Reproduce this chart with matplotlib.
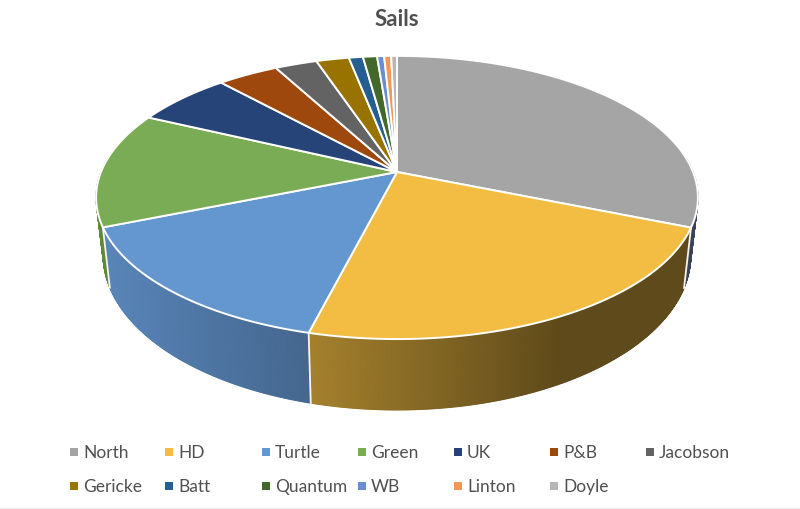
import numpy as np
import matplotlib
matplotlib.use('Agg')
import matplotlib.pyplot as plt

names = ['North', 'HD', 'Turtle', 'Green', 'UK', 'P&B', 'Jacobson',
         'Gericke', 'Batt', 'Quantum', 'WB', 'Linton', 'Doyle']
shares = [31.2, 22.8, 14.9, 13.2, 6.2, 3.9, 2.7, 2.1, 0.9, 0.9, 0.45, 0.45, 0.37]
colors = ['#a5a5a5', '#f2bd42', '#6496d0', '#7aab55', '#264478', '#9e480e', '#636363',
          '#997300', '#255e91', '#43682b', '#698ed0', '#f1975a', '#b7b7b7']

# the walls that do not follow the x shading
wall_colors = {'North': '#3b4356', 'Green': '#5f8a35'}

# perspective of the tilted disc, in pixels
TOP = dict(cx=397, cy=173, a=296, b=137)
BOTTOM = dict(cx=397, cy=228, a=289, b=150)
K = 0.18


def project(theta, p):
    u, v = np.sin(theta), np.cos(theta)
    return p['cx'] + p['a'] * u / (1 + K * v), p['cy'] - p['b'] * v / (1 + K * v)


def wall_shade(x):
    return np.interp(x, [100, 310, 560, 700], [0.89, 0.68, 0.39, 0.39])


plt.rcParams['font.family'] = ['Lato', 'DejaVu Sans']

fig = plt.figure(figsize=(8, 5.1), dpi=100)
ax = fig.add_axes([0, 0, 1, 1])
ax.set_xlim(0, 800)
ax.set_ylim(510, 0)
ax.axis('off')

fractions = np.array(shares) / sum(shares)
edges = np.concatenate([[0], np.cumsum(fractions)]) * 2 * np.pi

# side wall, thin strips from back to front
strips = []
for i, name in enumerate(names):
    t = np.linspace(edges[i], edges[i + 1], max(int(np.degrees(edges[i + 1] - edges[i])) * 4, 1) + 1)
    for t0, t1 in zip(t[:-1], t[1:]):
        if np.cos((t0 + t1) / 2) > 0.1:
            continue
        x0, y0 = project(t0, TOP)
        x1, y1 = project(t1, TOP)
        x2, y2 = project(t1, BOTTOM)
        x3, y3 = project(t0, BOTTOM)
        if name in wall_colors:
            c = wall_colors[name]
        else:
            c = np.array(matplotlib.colors.to_rgb(colors[i])) * wall_shade((x0 + x1) / 2)
        strips.append((np.cos((t0 + t1) / 2), [x0, x1, x2, x3], [y0, y1, y2, y3], c))

for _, xs, ys, c in sorted(strips, key=lambda s: -s[0]):
    ax.fill(xs, ys, color=c, lw=0.8, zorder=2)

# white seams on the wall
for e in edges[1:4]:
    xt, yt = project(e, TOP)
    xb, yb = project(e, BOTTOM)
    ax.plot([xt, xb], [yt, yb], color='#f4f4f0', lw=1.3, zorder=3)

# top face
for i in range(len(names)):
    t = np.linspace(edges[i], edges[i + 1], max(int(np.degrees(edges[i + 1] - edges[i])), 2) + 1)
    xs, ys = project(t, TOP)
    ax.fill(np.r_[TOP['cx'], xs], np.r_[TOP['cy'], ys], facecolor=colors[i],
            edgecolor='white', lw=1.4, joinstyle='round', zorder=4)

ax.text(397, 19, 'Sails', ha='center', va='center', fontsize=16, fontweight='bold', color='#505050')

# legend in fixed columns, as in the original
legend_x = [70, 165, 262, 358, 454, 550, 646]
legend_y = [453, 487]
for i, name in enumerate(names):
    row, col = divmod(i, 7)
    ax.scatter(legend_x[col] + 3.5, legend_y[row], marker='s', s=34, color=colors[i], lw=0, zorder=5)
    ax.text(legend_x[col] + 13, legend_y[row] + 0.5, name, ha='left', va='center',
            fontsize=12.5, color='#505050')

ax.plot([0, 800], [509, 509], color='#e9e9e9', lw=0.8)

fig.savefig('out.png', dpi=100)
